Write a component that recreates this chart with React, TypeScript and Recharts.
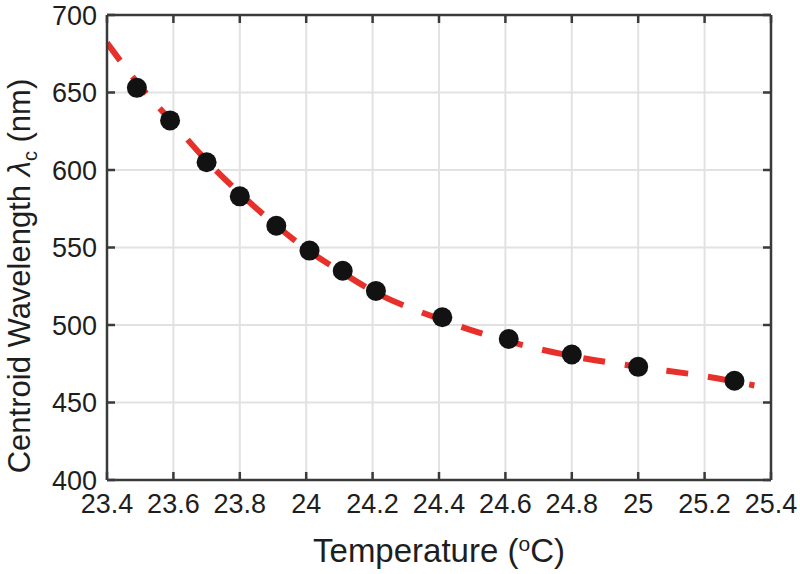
import {
  CartesianGrid,
  ComposedChart,
  Label,
  Line,
  ReferenceLine,
  Scatter,
  XAxis,
  YAxis,
} from "recharts";

// measured centroid wavelength vs temperature
const measuredTemp = [23.49, 23.59, 23.7, 23.8, 23.91, 24.01, 24.11, 24.21, 24.41, 24.61, 24.8, 25.0, 25.29];
const measuredWl = [653, 632, 605, 583, 564, 548, 535, 522, 505, 491, 481, 473, 464];

// fitted curve
const fitTemp = [23.4, 23.5, 23.6, 23.7, 23.8, 23.9, 24.0, 24.1, 24.2, 24.4, 24.6, 24.8, 25.0, 25.2, 25.35];
const fitWl = [682, 654, 630, 606, 585, 566, 549, 535, 522, 504, 490, 480, 473, 467, 461];

const xTicks = [23.4, 23.6, 23.8, 24, 24.2, 24.4, 24.6, 24.8, 25, 25.2, 25.4];
const yTicks = [400, 450, 500, 550, 600, 650, 700];

const measured = measuredTemp.map((t, i) => ({ t, wl: measuredWl[i] }));
const fit = fitTemp.map((t, i) => ({ t, wl: fitWl[i] }));

const W = 800;
const H = 574;
// plot box edges in px
const PLOT = { left: 107, top: 15, right: 771, bottom: 480 };
const TICK_LEN = 8;

const FONT = '"Liberation Sans", Arial, Helvetica, sans-serif';
const FRAME = "#3a3a3a";
const TEXT = "#1e1e1e";
const TICK_FS = 27;
const frameLine = { stroke: FRAME, strokeWidth: 2.5 };

// bottom tick: label + inward marks on bottom and top edges
const XTick = ({ x, payload }: any) => (
  <g>
    <line x1={x} x2={x} y1={PLOT.bottom} y2={PLOT.bottom - TICK_LEN} {...frameLine} />
    <line x1={x} x2={x} y1={PLOT.top} y2={PLOT.top + TICK_LEN} {...frameLine} />
    <text x={x} y={513} textAnchor="middle" fontFamily={FONT} fontSize={TICK_FS} fill={TEXT}>
      {String(Math.round(payload.value * 10) / 10)}
    </text>
  </g>
);

// left tick: label + inward marks on left and right edges
const YTick = ({ y, payload }: any) => (
  <g>
    <line x1={PLOT.left} x2={PLOT.left + TICK_LEN} y1={y} y2={y} {...frameLine} />
    <line x1={PLOT.right} x2={PLOT.right - TICK_LEN} y1={y} y2={y} {...frameLine} />
    <text x={PLOT.left - 10} y={y} dy={TICK_FS * 0.36} textAnchor="end" fontFamily={FONT} fontSize={TICK_FS} fill={TEXT}>
      {payload.value}
    </text>
  </g>
);

const XTitle = ({ viewBox }: any) => {
  const cx = viewBox.x + viewBox.width / 2;
  return (
    <text x={cx} y={562} textAnchor="middle" fontFamily={FONT} fontSize={33} fill={TEXT}>
      Temperature (
      <tspan dy={-11} fontSize={21}>o</tspan>
      <tspan dy={11}>C)</tspan>
    </text>
  );
};

const YTitle = () => (
  <text
    x={0}
    y={0}
    transform="translate(30, 276) rotate(-90)"
    textAnchor="middle"
    fontFamily={FONT}
    fontSize={31}
    fill={TEXT}
  >
    Centroid Wavelength <tspan fontStyle="italic">λ</tspan>
    <tspan dy={7} fontSize={20}>c</tspan>
    <tspan dy={-7}> (nm)</tspan>
  </text>
);

const Dot = (p: any) => <circle cx={p.cx} cy={p.cy} r={10} fill="#121212" />;

export default function App() {
  return (
    <div style={{ position: "absolute", left: 0, top: 0, width: W, height: H, background: "#fff" }}>
      <ComposedChart
        width={W}
        height={H}
        margin={{ top: PLOT.top, right: W - PLOT.right, bottom: 0, left: 0 }}
      >
        <CartesianGrid stroke="#e2e2e2" strokeWidth={2} horizontalValues={yTicks} verticalValues={xTicks} />
        <XAxis
          dataKey="t"
          type="number"
          domain={[23.4, 25.4]}
          ticks={xTicks}
          allowDataOverflow
          height={H - PLOT.bottom}
          tickSize={0}
          tick={<XTick />}
          axisLine={frameLine}
          tickLine={false}
        >
          <Label content={<XTitle />} />
        </XAxis>
        <YAxis
          dataKey="wl"
          type="number"
          domain={[400, 700]}
          ticks={yTicks}
          allowDataOverflow
          width={PLOT.left}
          tickSize={0}
          tick={<YTick />}
          axisLine={frameLine}
          tickLine={false}
        >
          <Label content={<YTitle />} />
        </YAxis>
        <ReferenceLine y={700} stroke={FRAME} strokeWidth={2.5} />
        <ReferenceLine x={25.4} stroke={FRAME} strokeWidth={2.5} />
        <Line
          data={fit}
          dataKey="wl"
          type="monotone"
          stroke="#e8302a"
          strokeWidth={6}
          strokeDasharray="22 20"
          dot={false}
          activeDot={false}
          isAnimationActive={false}
        />
        <Scatter data={measured} dataKey="wl" shape={<Dot />} isAnimationActive={false} />
      </ComposedChart>
    </div>
  );
}
